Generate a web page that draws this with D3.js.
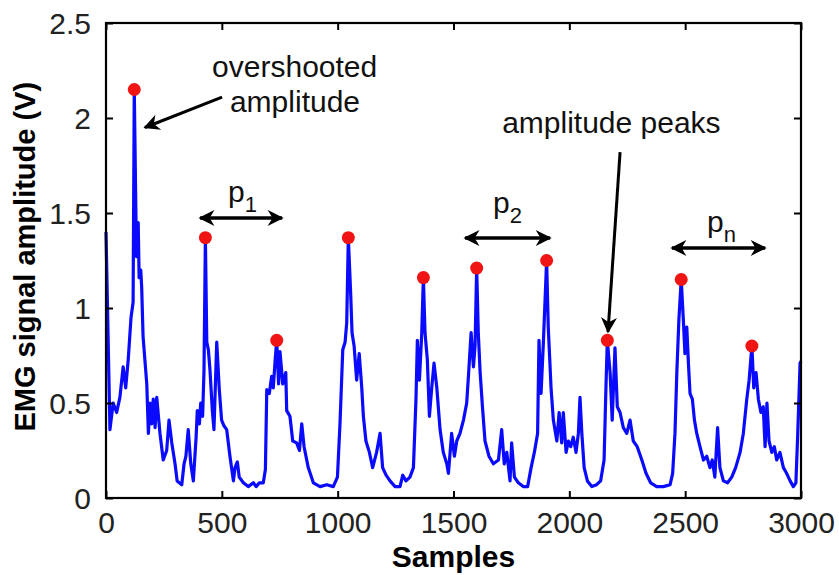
<!DOCTYPE html>
<html>
<head>
<meta charset="utf-8">
<script src="https://cdn.jsdelivr.net/npm/d3@7"></script>
<style>
  body { margin: 0; background: #fff; }
  text { font-family: "Liberation Sans", Arial, sans-serif; }
</style>
</head>
<body>
<div id="chart"></div>
<script>
// signal samples
var sampleIdx = [0,17,31,46,60,74,85,96,108,117,122,129,132,139,143,150,154,160,176,183,190,197,204,212,219,233,247,262,272,284,298,307,327,337,345,355,366,377,389,394,403,409,417,423,429,435,442,449,459,466,478,489,499,509,521,535,550,557,567,575,593,614,636,648,662,679,688,694,705,715,722,731,737,745,751,763,776,780,794,806,823,835,845,855,873,895,924,953,981,999,1010,1022,1032,1039,1046,1056,1062,1071,1082,1093,1104,1111,1122,1137,1151,1168,1183,1194,1209,1226,1248,1269,1281,1295,1312,1327,1338,1344,1353,1363,1370,1377,1387,1396,1406,1416,1428,1442,1456,1471,1478,1492,1504,1514,1528,1543,1557,1567,1576,1586,1593,1600,1607,1615,1625,1636,1653,1672,1694,1708,1719,1730,1744,1751,1763,1780,1801,1820,1835,1849,1863,1869,1878,1888,1902,1909,1921,1931,1946,1956,1967,1974,1986,1996,2006,2017,2029,2039,2046,2054,2064,2078,2097,2118,2135,2150,2158,2164,2176,2185,2197,2207,2219,2233,2248,2262,2276,2293,2313,2331,2351,2377,2406,2435,2446,2456,2464,2473,2483,2492,2499,2507,2514,2521,2531,2540,2550,2564,2579,2593,2607,2617,2628,2640,2650,2665,2683,2701,2718,2737,2751,2766,2776,2788,2796,2806,2816,2827,2837,2845,2853,2862,2874,2885,2895,2909,2924,2938,2953,2967,2978,2986,2996,3000];
var amplitude = [1.40,0.36,0.50,0.45,0.53,0.69,0.58,0.73,0.95,1.03,2.15,1.50,1.27,1.45,1.16,1.20,1.11,0.85,0.60,0.34,0.50,0.39,0.52,0.37,0.53,0.34,0.20,0.25,0.41,0.29,0.18,0.09,0.07,0.18,0.22,0.36,0.18,0.09,0.32,0.46,0.39,0.50,0.43,0.67,1.37,0.82,0.78,0.67,0.46,0.36,0.82,0.57,0.41,0.38,0.36,0.22,0.09,0.16,0.19,0.11,0.08,0.06,0.08,0.06,0.08,0.08,0.15,0.57,0.55,0.64,0.58,0.74,0.83,0.60,0.77,0.60,0.66,0.46,0.43,0.30,0.29,0.25,0.39,0.27,0.16,0.08,0.06,0.07,0.06,0.11,0.39,0.78,0.82,0.92,1.37,1.08,0.87,0.80,0.62,0.76,0.58,0.43,0.30,0.24,0.16,0.24,0.34,0.16,0.12,0.09,0.06,0.06,0.12,0.09,0.11,0.16,0.52,0.83,0.62,0.87,1.16,0.87,0.73,0.43,0.58,0.71,0.58,0.36,0.24,0.18,0.13,0.34,0.22,0.30,0.34,0.41,0.50,0.69,0.87,0.69,0.80,1.21,0.87,0.66,0.48,0.30,0.22,0.18,0.20,0.36,0.18,0.24,0.09,0.29,0.11,0.08,0.06,0.06,0.16,0.24,0.34,0.83,0.55,0.82,1.25,0.90,0.58,0.41,0.30,0.45,0.29,0.45,0.24,0.30,0.27,0.32,0.24,0.34,0.53,0.34,0.16,0.09,0.06,0.07,0.09,0.20,0.58,0.83,0.66,0.41,0.79,0.48,0.45,0.37,0.34,0.41,0.30,0.27,0.20,0.13,0.08,0.06,0.06,0.07,0.13,0.34,0.66,0.94,1.15,0.94,0.76,0.90,0.71,0.55,0.52,0.41,0.34,0.27,0.20,0.22,0.16,0.20,0.11,0.37,0.16,0.09,0.08,0.11,0.16,0.24,0.34,0.52,0.62,0.80,0.58,0.66,0.52,0.45,0.48,0.27,0.50,0.30,0.24,0.27,0.20,0.24,0.16,0.13,0.09,0.06,0.08,0.34,0.71,0.72];

// detected peaks (red dots)
var peakSamples = [122,429,737,1046,1370,1600,1902,2164,2483,2788];
var peakValues  = [2.15,1.37,0.83,1.37,1.16,1.21,1.25,0.83,1.15,0.80];

// tick labels
var xTicks = [0,500,1000,1500,2000,2500,3000];
var yTicks = [0,0.5,1,1.5,2,2.5];

// annotations in data units
var periodLabels = ["1","2","n"];
var periodFrom   = [406,1550,2443];
var periodTo     = [760,1917,2845];
var periodLevel  = [1.474,1.368,1.316];
var periodTextX  = [527,1671,2594];
var periodTextY  = [1.558,1.50,1.40];

var margin = {top: 23, right: 38, bottom: 77, left: 106};
var width = 839 - margin.left - margin.right;
var height = 575 - margin.top - margin.bottom;

var svg = d3.select("#chart")
    .append("svg")
    .attr("width", 839)
    .attr("height", 575)
    .append("g")
    .attr("transform", "translate(" + margin.left + "," + margin.top + ")");

var x = d3.scaleLinear().domain([0, 3000]).range([0, width]);
var y = d3.scaleLinear().domain([0, 2.5]).range([height, 0]);

// arrow heads
var defs = svg.append("defs");
defs.append("marker")
    .attr("id", "head")
    .attr("viewBox", "0 0 10 10")
    .attr("refX", 9)
    .attr("refY", 5)
    .attr("markerUnits", "userSpaceOnUse")
    .attr("markerWidth", 19)
    .attr("markerHeight", 16)
    .attr("orient", "auto-start-reverse")
    .append("path")
    .attr("d", "M0,0 L10,5 L0,10 L3,5 Z")
    .attr("fill", "#000");

// signal
var pts = sampleIdx.map(function(s, i) { return [s, amplitude[i]]; });
svg.append("path")
    .datum(pts)
    .attr("fill", "none")
    .attr("stroke", "#0a0aff")
    .attr("stroke-width", 3.2)
    .attr("stroke-linejoin", "round")
    .attr("d", d3.line()
        .x(function(d) { return x(d[0]); })
        .y(function(d) { return y(d[1]); }));

// peaks
svg.selectAll(".peak")
    .data(peakSamples)
    .enter()
    .append("circle")
    .attr("class", "peak")
    .attr("cx", function(d) { return x(d); })
    .attr("cy", function(d, i) { return y(peakValues[i]); })
    .attr("r", 6.5)
    .attr("fill", "#f01414");

// axes: ticks pointing inward on all four sides
var fontTick = "30px";
svg.append("g")
    .attr("transform", "translate(0," + height + ")")
    .call(d3.axisBottom(x).tickValues(xTicks).tickSizeInner(-7).tickSizeOuter(0).tickPadding(14)
        .tickFormat(d3.format("d")));
var left = svg.append("g")
    .call(d3.axisLeft(y).tickValues(yTicks).tickSizeInner(-7).tickSizeOuter(0).tickPadding(15)
        .tickFormat(function(d) { return d; }));
svg.append("g")
    .call(d3.axisTop(x).tickValues(xTicks).tickSizeInner(-7).tickSizeOuter(0).tickFormat(""));
svg.append("g")
    .attr("transform", "translate(" + width + ",0)")
    .call(d3.axisRight(y).tickValues(yTicks).tickSizeInner(-7).tickSizeOuter(0).tickFormat(""));

svg.selectAll(".tick line").attr("stroke", "#000").attr("stroke-width", 2);
svg.selectAll(".domain").remove();
svg.selectAll(".tick text")
    .attr("fill", "#222")
    .style("font-size", fontTick)
    .style("font-family", "'Liberation Sans', Arial, sans-serif");
left.selectAll(".tick text").attr("dy", "0.36em");

svg.append("rect")
    .attr("width", width)
    .attr("height", height)
    .attr("fill", "none")
    .attr("stroke", "#000")
    .attr("stroke-width", 2.2);

// axis titles
svg.append("text")
    .attr("x", width / 2)
    .attr("y", height + 69)
    .attr("text-anchor", "middle")
    .style("font-size", "30px")
    .style("font-weight", "bold")
    .text("Samples");

svg.append("text")
    .attr("transform", "translate(" + (-71) + "," + (y(1.27)) + ") rotate(-90)")
    .attr("text-anchor", "middle")
    .style("font-size", "29px")
    .style("font-weight", "bold")
    .text("EMG signal amplitude (V)");

// overshoot annotation
svg.append("text")
    .attr("x", x(458)).attr("y", y(2.216))
    .style("font-size", "30px").attr("fill", "#111")
    .text("overshooted");
svg.append("text")
    .attr("x", x(535)).attr("y", y(2.03))
    .style("font-size", "30px").attr("fill", "#111")
    .text("amplitude");
svg.append("line")
    .attr("x1", x(501)).attr("y1", y(2.11))
    .attr("x2", x(168)).attr("y2", y(1.95))
    .attr("stroke", "#000").attr("stroke-width", 3)
    .attr("marker-end", "url(#head)");

// amplitude peaks annotation
svg.append("text")
    .attr("x", x(1710)).attr("y", y(1.92))
    .style("font-size", "30px").attr("fill", "#111")
    .text("amplitude peaks");
svg.append("line")
    .attr("x1", x(2219)).attr("y1", y(1.82))
    .attr("x2", x(2167)).attr("y2", y(0.874))
    .attr("stroke", "#000").attr("stroke-width", 3)
    .attr("marker-end", "url(#head)");

// period arrows p1, p2, pn
svg.selectAll(".period")
    .data(periodLabels)
    .enter()
    .append("line")
    .attr("class", "period")
    .attr("x1", function(d, i) { return x(periodFrom[i]); })
    .attr("x2", function(d, i) { return x(periodTo[i]); })
    .attr("y1", function(d, i) { return y(periodLevel[i]); })
    .attr("y2", function(d, i) { return y(periodLevel[i]); })
    .attr("stroke", "#000")
    .attr("stroke-width", 3.5)
    .attr("marker-start", "url(#head)")
    .attr("marker-end", "url(#head)");

var plabel = svg.selectAll(".plabel")
    .data(periodLabels)
    .enter()
    .append("text")
    .attr("class", "plabel")
    .attr("x", function(d, i) { return x(periodTextX[i]); })
    .attr("y", function(d, i) { return y(periodTextY[i]); })
    .style("font-size", "30px")
    .attr("fill", "#111");
plabel.append("tspan").text("p");
plabel.append("tspan")
    .attr("dy", 10)
    .style("font-size", "22px")
    .text(function(d) { return d; });
</script>
</body>
</html>
